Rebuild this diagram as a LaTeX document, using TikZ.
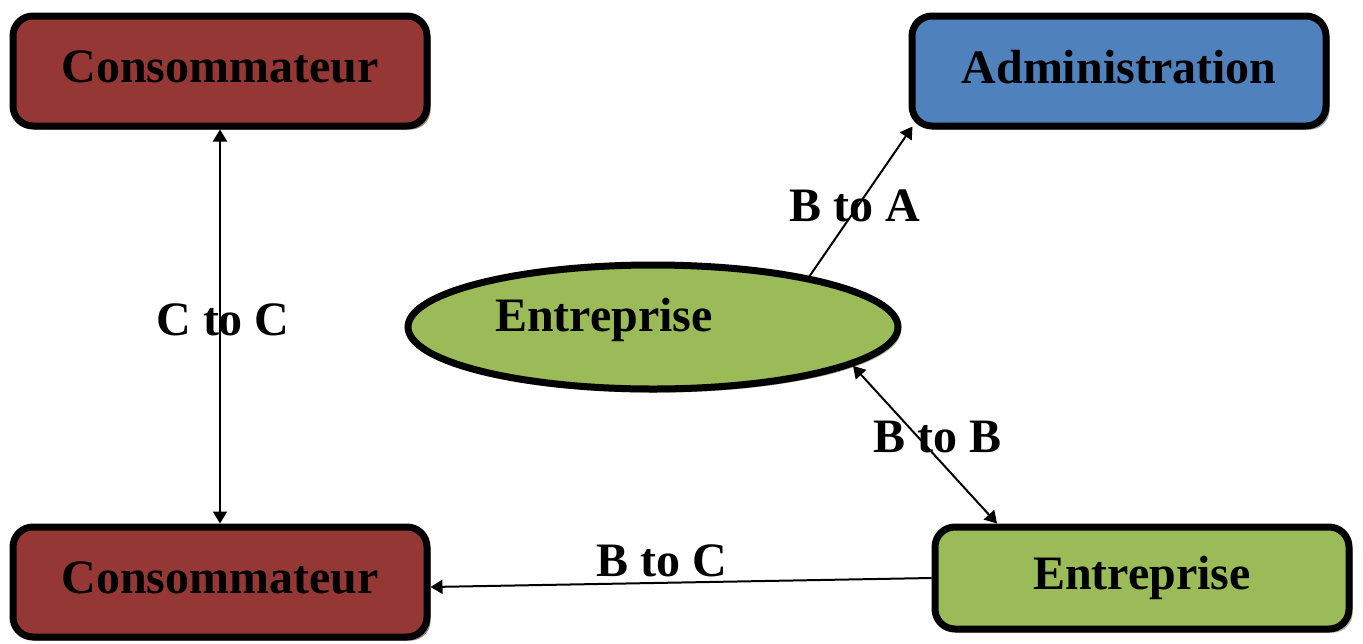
\documentclass[tikz,border=0pt]{standalone}
\usepackage{fontspec}
\setmainfont{Liberation Serif}
\usetikzlibrary{arrows.meta,shadows,shapes.geometric,calc}
\definecolor{cred}{HTML}{953735}
\definecolor{cgreen}{HTML}{9BBB59}
\definecolor{cblue}{HTML}{4F81BD}
\newcommand{\up}[1]{\raisebox{4pt}{#1}}
\begin{document}
\begin{tikzpicture}[x=0.5pt,y=-0.5pt,
  lbl/.style={font=\fontsize{24}{28}\selectfont\bfseries, text=black},
  boxnode/.style={draw=black, line width=3.5pt, rounded corners=10pt,
     minimum width=207pt, minimum height=55pt, inner sep=0pt,
     font=\fontsize{24}{28}\selectfont\bfseries},
  redbox/.style={boxnode, fill=cred, drop shadow={shadow xshift=1.8pt, shadow yshift=-1.8pt, fill=cred!50!gray, opacity=0.8}},
  bluebox/.style={boxnode, fill=cblue, drop shadow={shadow xshift=1.8pt, shadow yshift=-1.8pt, fill=cblue!40!gray, opacity=0.8}},
  greenbox/.style={boxnode, fill=cgreen, drop shadow={shadow xshift=1.8pt, shadow yshift=-1.8pt, fill=cgreen!50!gray, opacity=0.8}},
  conn/.style={line width=1pt, draw=black},
  tip/.style={-{Triangle[length=6pt,width=7pt]}},
  tips/.style={{Triangle[length=6pt,width=7pt]}-{Triangle[length=6pt,width=7pt]}}
]
\useasboundingbox (0,0) rectangle (1363,643);
\node[redbox] (c1) at (220,71) {\up{Consommateur}};
\node[bluebox] (adm) at (1119,71) {\up{Administration}};
\node[redbox] (c2) at (220,582) {\up{Consommateur}};
\node[greenbox, minimum height=51pt] (ent2) at (1142,578) {\up{Entreprise}};
\node[ellipse, draw=black, line width=3.5pt, fill=cgreen, minimum width=245pt, minimum height=62pt, inner sep=0pt,
  drop shadow={shadow xshift=1.4pt, shadow yshift=-1.8pt, fill=cgreen!50!gray, opacity=0.8}] (ent1) at (653,327) {};
\node[lbl] (t1) at (604,320) {Entreprise};

\draw[conn, tips] (c1.south) -- (c2.north);
\draw[conn, tip] (ent1.18) -- ([shift={(4,-3)}]adm.south west);
\draw[conn, tips] (ent1.-11) -- ([xshift=-72.5pt]ent2.north);
\draw[conn, tip] (ent2.west) -- ([yshift=-2.5pt]c2.east);

\node[lbl] (l1) at (223,320) {C to C};
\node[lbl] (l2) at (855,206) {B to A};
\node[lbl] (l3) at (937,437) {B to B};
\node[lbl] (l4) at (662,561) {B to C};
\end{tikzpicture}
\end{document}
